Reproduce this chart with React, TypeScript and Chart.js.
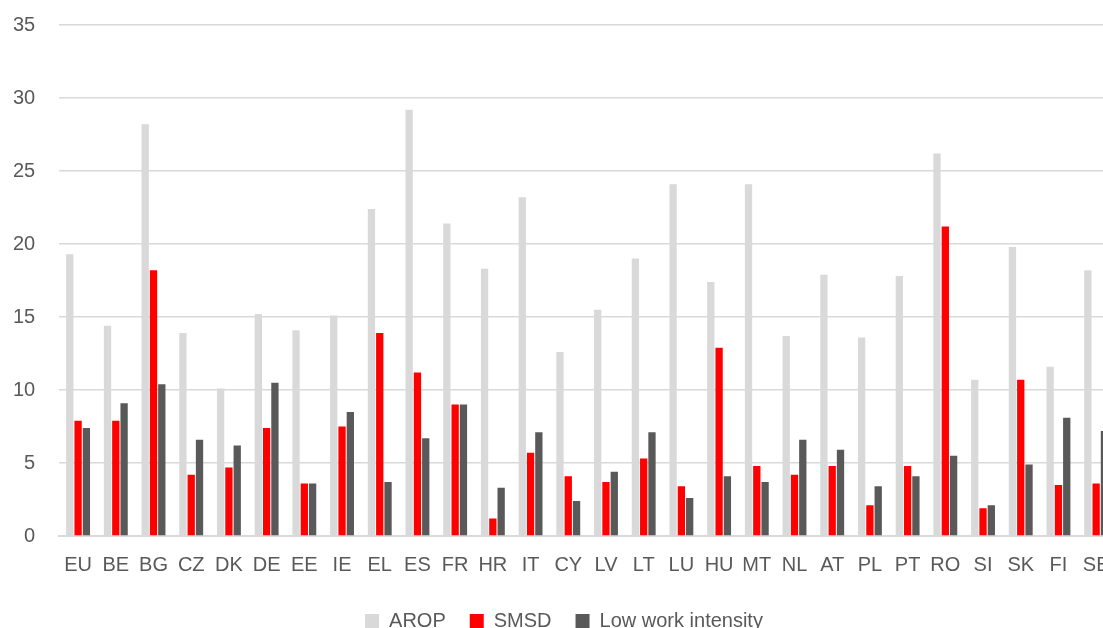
import React, { useEffect, useRef } from "react";
import { Chart, registerables } from "chart.js";

Chart.register(...registerables);

const categories = ["EU","BE","BG","CZ","DK","DE","EE","IE","EL","ES","FR","HR","IT","CY","LV","LT","LU","HU","MT","NL","AT","PL","PT","RO","SI","SK","FI","SE"];
const arop = [19.3,14.4,28.2,13.9,10.1,15.2,14.1,15.1,22.4,29.2,21.4,18.3,23.2,12.6,15.5,19.0,24.1,17.4,24.1,13.7,17.9,13.6,17.8,26.2,10.7,19.8,11.6,18.2];
const smsd = [7.9,7.9,18.2,4.2,4.7,7.4,3.6,7.5,13.9,11.2,9.0,1.2,5.7,4.1,3.7,5.3,3.4,12.9,4.8,4.2,4.8,2.1,4.8,21.2,1.9,10.7,3.5,3.6];
const lowWork = [7.4,9.1,10.4,6.6,6.2,10.5,3.6,8.5,3.7,6.7,9.0,3.3,7.1,2.4,4.4,7.1,2.6,4.1,3.7,6.6,5.9,3.4,4.1,5.5,2.1,4.9,8.1,7.2];
const yTicks = [0,5,10,15,20,25,30,35];

const legendShift = {
  id: "legendShift",
  afterLayout(chart: any) {
    const lg = chart.legend;
    if (lg) {
      lg.left += 12;
      lg.right += 12;
    }
  },
};

export default function App() {
  const ref = useRef<HTMLCanvasElement>(null);
  useEffect(() => {
    if (!ref.current) return;
    const font = { family: "'Liberation Sans', Arial, sans-serif", size: 20 };
    const chart = new Chart(ref.current, {
      type: "bar",
      data: {
        labels: categories,
        datasets: [
          { label: "AROP", data: arop, backgroundColor: "#d9d9d9" },
          { label: "SMSD", data: smsd, backgroundColor: "#ff0000" },
          { label: "Low work intensity", data: lowWork, backgroundColor: "#595959" },
        ],
      },
      plugins: [legendShift],
      options: {
        animation: false,
        responsive: false,
        maintainAspectRatio: false,
        datasets: { bar: { categoryPercentage: 0.66, barPercentage: 0.88 } },
        layout: { padding: { top: 6, left: 4, right: 8, bottom: 0 } },
        plugins: {
          tooltip: { enabled: false },
          legend: {
            position: "bottom",
            labels: {
              color: "#595959",
              font,
              boxWidth: 14,
              boxHeight: 14,
              padding: 24,
            },
          },
        },
        scales: {
          x: {
            grid: { display: false },
            border: { display: true, color: "#d9d9d9", width: 2 },
            ticks: { color: "#595959", font, padding: 9.5, maxRotation: 0, autoSkip: false },
          },
          y: {
            min: 0,
            max: 35,
            afterBuildTicks: (axis: any) => {
              axis.ticks = yTicks.map((v) => ({ value: v }));
            },
            grid: { color: "#d9d9d9", lineWidth: 1.5, drawTicks: false },
            border: { display: false },
            ticks: { color: "#595959", font, padding: 24 },
          },
        },
      },
    });
    return () => chart.destroy();
  }, []);
  return (
    <div style={{ position: "fixed", left: 0, top: 0, width: 1103, height: 628, overflow: "hidden", background: "#fff" }}>
      <div style={{ position: "absolute", left: -15, top: -11 }}>
        <canvas ref={ref} width={1138} height={652} style={{ width: 1138, height: 652 }} />
      </div>
    </div>
  );
}
